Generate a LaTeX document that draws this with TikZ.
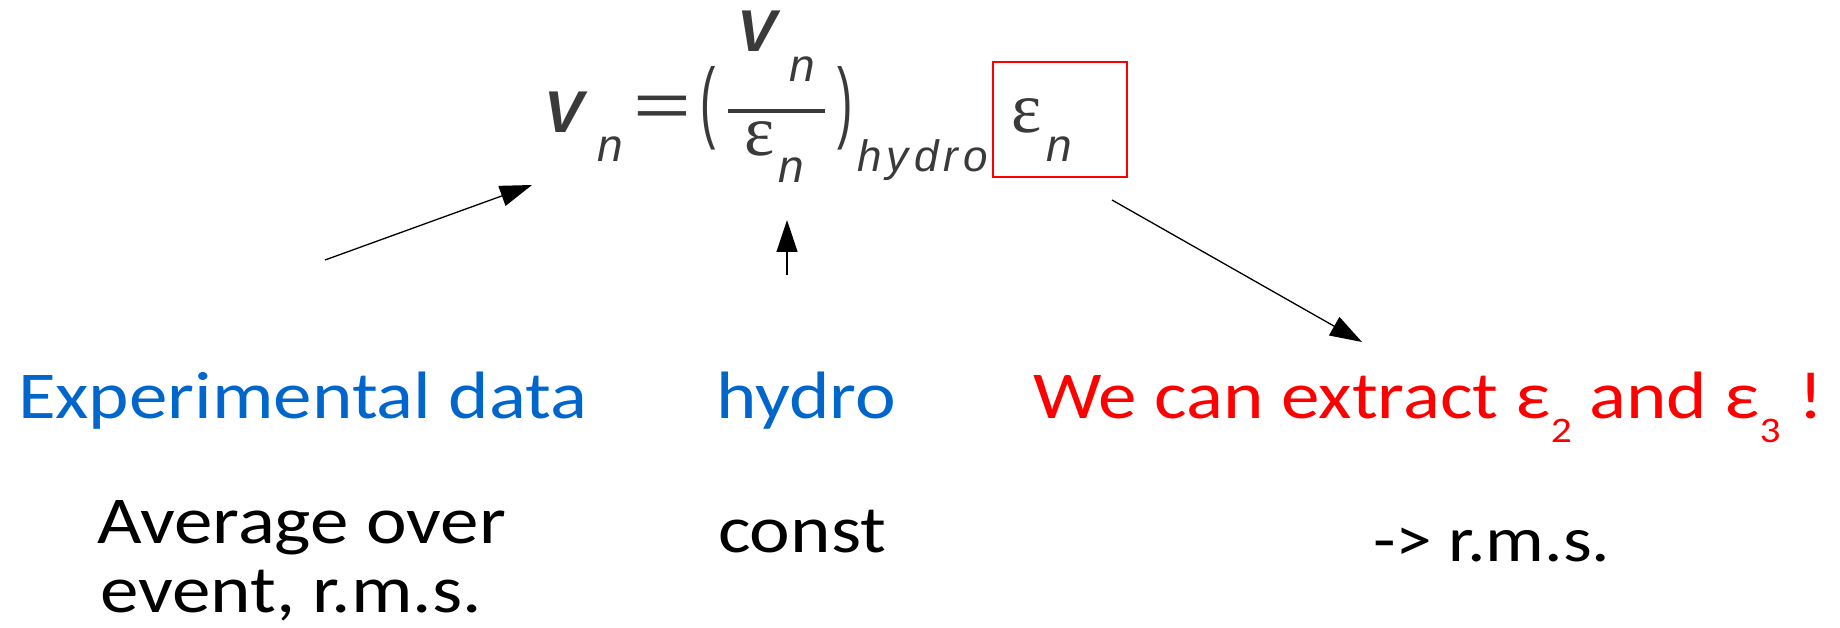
\documentclass[tikz,border=0pt]{standalone}
\usepackage{fontspec}
\usetikzlibrary{arrows.meta}
\newfontfamily\fsans{Liberation Sans}
\newfontfamily\fserif{Liberation Serif}
\newfontfamily\hand[FakeStretch=1.15]{Carlito}
\definecolor{fcol}{HTML}{3A3A3A}
\definecolor{bluet}{HTML}{0066CC}
\definecolor{redt}{HTML}{FF0000}
\begin{document}
\begin{tikzpicture}[x=1pt,y=-1pt,
  every node/.style={inner sep=0pt, outer sep=0pt},
  bigV/.style={font=\fsans\bfseries\itshape\fontsize{59}{59}\selectfont, text=fcol, anchor=base west},
  subn/.style={font=\fsans\itshape\fontsize{46}{46}\selectfont, text=fcol, anchor=base west},
  eps/.style={font=\fserif\fontsize{72}{72}\selectfont, text=fcol, anchor=base west},
  paren/.style={font=\fsans\fontsize{46}{46}\selectfont, text=fcol, anchor=center},
  lbl/.style={font=\hand\fontsize{67}{67}\selectfont, anchor=base west},
  conn/.style={-{Triangle[length=32pt,width=21pt]}, line width=1.3pt, black}]
\useasboundingbox (0,0) rectangle (1840,628);
% formula
\node[bigV] (V1) at (544,133) {V};
\node[subn] (n1) at (597,162) {n};
\node[font=\fsans\fontsize{62}{62}\selectfont, text=fcol, anchor=center] (eq) at (662,111) {\scalebox{1.6}[1]{=}};
\node[paren] (lp) at (708,108) {\scalebox{1}[1.95]{(}};
\node[bigV] (V2) at (737,52) {V};
\node[subn] (n2) at (789,82) {n};
\draw[fcol, line width=4.5pt] (728,111) -- (825,111);
\node[eps] (e1) at (744,156) {ε};
\node[subn] (n3) at (778,183) {n};
\node[paren] (rp) at (845,108) {\scalebox{1}[1.95]{)}};
\node[font=\fsans\itshape\fontsize{44}{44}\selectfont\addfontfeature{LetterSpace=12}, text=fcol, anchor=base west] (hy) at (857,172) {hydro};
\node[draw=redt, line width=1.2pt, minimum width=134pt, minimum height=115pt, anchor=north west] (box) at (993,62) {};
\node[eps] (e2) at (1011,133) {ε};
\node[subn] (n4) at (1046,162) {n};
% labels
\node[lbl, text=bluet] (exp) at (18,418) {Experimental data};
\node[lbl, text=bluet] (hyd) at (716,418) {hydro};
\node[lbl, text=redt] (ext) at (1033,418) {We can extract ε\raisebox{-24pt}{\fontsize{36}{36}\selectfont 2} and ε\raisebox{-24pt}{\fontsize{36}{36}\selectfont 3} !};
\node[lbl] (avg1) at (97,543) {Average over};
\node[lbl] (avg2) at (100,612) {event, r.m.s.};
\node[lbl] (cst) at (718,552) {const};
\node[lbl, font=\hand\fontsize{64}{64}\selectfont] (rms) at (1373,561) {-> r.m.s.};
% connectors
\coordinate (a1s) at (325,260);
\coordinate (a1e) at (532,185);
\coordinate (a2s) at (787,275);
\coordinate (a2e) at (787,220);
\coordinate (a3s) at (1112,200);
\coordinate (a3e) at (1362,342);
\draw[conn] (a1s) -- (a1e);
\draw[conn] (a2s) -- (a2e);
\draw[conn] (a3s) -- (a3e);
\end{tikzpicture}
\end{document}
